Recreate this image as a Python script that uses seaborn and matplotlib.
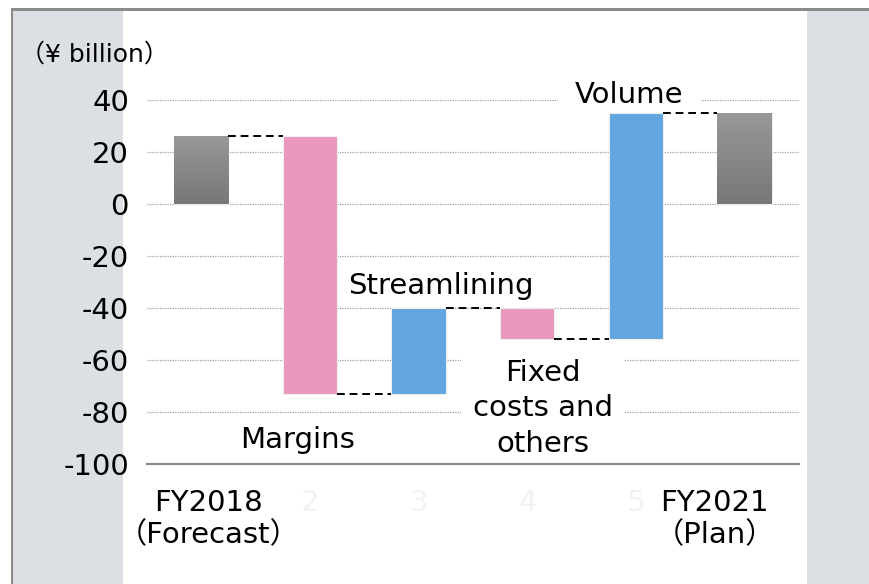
import numpy as np
import matplotlib.pyplot as plt
import seaborn as sns
from matplotlib.patches import Rectangle
from matplotlib.colors import LinearSegmentedColormap
from matplotlib.transforms import ScaledTranslation

# data (¥ billion)
steps = ["FY2018", "Margins", "Streamlining", "Fixed costs and others", "Volume", "FY2021"]
start_value = 26
deltas = [-99, 33, -12, 87]
end_value = 35
tick_labels = ["FY2018\n（Forecast）", "2", "3", "4", "5", "FY2021\n（Plan）"]
bar_colors = ["#8a8a8a", "#e898bc", "#62a6e0", "#e898bc", "#62a6e0", "#8a8a8a"]

levels = list(start_value + np.cumsum(deltas))
heights = [start_value] + deltas + [end_value]
bottoms = [0, start_value] + levels[:-1] + [0]
tops = [start_value] + levels

sns.set_theme(style="white")
plt.rcParams['font.family'] = ['DejaVu Sans', 'Noto Sans CJK JP']
plt.rcParams['axes.unicode_minus'] = False
plt.rcParams['text.color'] = 'black'

W, H = 870, 584
fig = plt.figure(figsize=(W / 100, H / 100), dpi=100)
fig.patch.set_facecolor('white')


def px_rect(x0, y0, x1, y1, color):
    fig.add_artist(Rectangle((x0 / W, 1 - y1 / H), (x1 - x0) / W, (y1 - y0) / H,
                             transform=fig.transFigure, facecolor=color,
                             edgecolor='none', zorder=-5))


# grey side panels and frame
px_rect(13, 11, 123, H, '#dce0e5')
px_rect(807, 11, W, H, '#dce0e5')
px_rect(11, 8, W, 11, '#8c8c8c')
px_rect(11, 8, 13, H, '#8c8c8c')

ax = fig.add_axes([147 / W, 1 - 464 / H, (799 - 147) / W, (464 - 100) / H])
ax.patch.set_alpha(0)

sns.barplot(x=steps, y=heights, hue=steps, palette=bar_colors, width=0.5,
            legend=False, saturation=1, edgecolor='#eeeeee', linewidth=0.8,
            zorder=2, ax=ax)

bars = ax.patches[:len(steps)]
for p, b in zip(bars, bottoms):
    p.set_y(b)

# gradient on the grey total bars
gcmap = LinearSegmentedColormap.from_list('g', ['#777777', '#989898'])
grad = np.linspace(0, 1, 100).reshape(-1, 1)
for i in (0, len(steps) - 1):
    p = bars[i]
    x0, y0 = p.get_x(), p.get_y()
    im = ax.imshow(grad, extent=[x0, x0 + p.get_width(), y0, y0 + p.get_height()],
                   origin='lower', cmap=gcmap, aspect='auto', zorder=2.1)
    im.set_clip_path(p)

# dashed connectors
for i in range(len(steps) - 1):
    ax.hlines(tops[i], bars[i].get_x() + bars[i].get_width(), bars[i + 1].get_x(),
              colors='black', linestyles=(0, (4, 2.5)), linewidth=1.4, zorder=3)

ax.set_xlim(-0.5, 5.5)
ax.set_ylim(-100, 40)
ax.set_yticks(range(-100, 41, 20))
ax.yaxis.grid(True, color='#a0a0a0', linestyle=(0, (1, 1)), linewidth=0.9)
ax.set_axisbelow(True)
for s in ['top', 'right', 'left']:
    ax.spines[s].set_visible(False)
ax.spines['bottom'].set_color('#8c8c8c')
ax.spines['bottom'].set_linewidth(1.6)

ax.tick_params(axis='y', length=0, pad=13, labelsize=21, labelcolor='black')
ax.tick_params(axis='x', length=0, pad=18, labelsize=21, labelcolor='black')
ax.set_xticks(range(len(steps)))
ax.set_xticklabels(tick_labels)
xl = ax.get_xticklabels()
for lbl in xl[1:-1]:
    lbl.set_color('#f2f2f2')
xl[0].set_transform(xl[0].get_transform() + ScaledTranslation(0.07, 0, fig.dpi_scale_trans))
xl[-1].set_transform(xl[-1].get_transform() + ScaledTranslation(-0.30, 0, fig.dpi_scale_trans))
ax.set_xlabel('')
ax.set_ylabel('')

# step labels
txt = dict(ha='center', va='baseline', fontsize=21, color='black', zorder=1.5, clip_on=False)
ax.text(3.94, 38.7, "Volume", bbox=dict(boxstyle='square,pad=0.6', fc='white', ec='none'), **txt)
ax.text(2.2, -34.5, "Streamlining", bbox=dict(boxstyle='square,pad=0.2', fc='white', ec='none'), **txt)
ax.text(3.14, -95.4, "Fixed\ncosts and\nothers", linespacing=1.35,
        bbox=dict(boxstyle='square,pad=0.4', fc='white', ec='none'), **txt)
ax.text(0.89, -93.9, "Margins", bbox=dict(boxstyle='square,pad=0.2', fc='white', ec='none'), **txt)

fig.text(20 / W, 1 - 62 / H, "（¥ billion）", fontsize=18, ha='left', va='baseline', color='black')

fig.savefig('out.png', dpi=100)
